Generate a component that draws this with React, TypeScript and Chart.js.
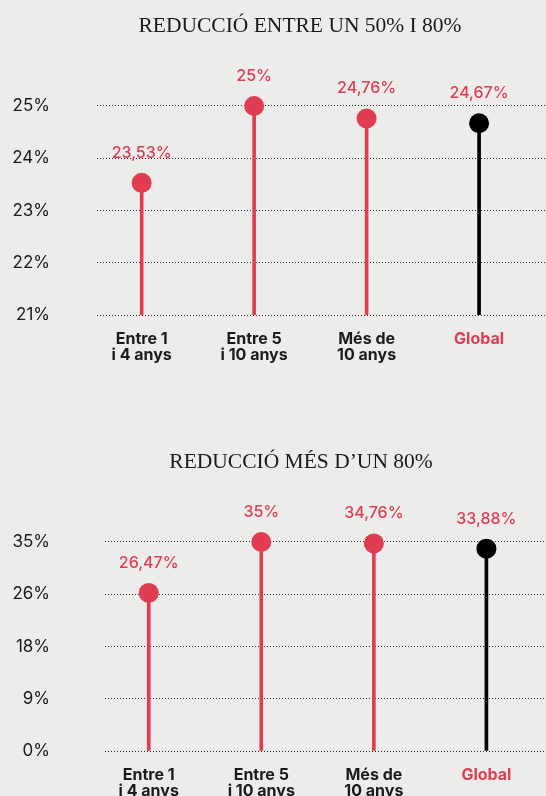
import React, { useEffect, useRef } from "react";
import { Chart, registerables } from "chart.js";

Chart.register(...registerables);

// ---- data ----
const categories: string[][] = [
  ["Entre 1", "i 4 anys"],
  ["Entre 5", "i 10 anys"],
  ["Més de", "10 anys"],
  ["Global"],
];
const title1 = "REDUCCIÓ ENTRE UN 50% I 80%";
const title2 = "REDUCCIÓ MÉS D\u2019UN 80%";
const values1 = [23.53, 25, 24.76, 24.67];
const values2 = [26.47, 35, 34.76, 33.88];
const yTicks1 = [21, 22, 23, 24, 25];
const yTickLabels1 = ["21%", "22%", "23%", "24%", "25%"];
const yTicks2 = [0, 8.75, 17.5, 26.25, 35];
const yTickLabels2 = ["0%", "9%", "18%", "26%", "35%"];

// ---- styles ----
const BG = "#ecedea";
const RED = "#e13d52";
const BLACK = "#000000";
const DARK = "#1b1b1b";
const markColors = [RED, RED, RED, BLACK];
const catLabelColors = [DARK, DARK, DARK, RED];

const fmt = (v: number) => String(v).replace(".", ",") + "%";

interface Props {
  top: number;
  width: number;
  title: string;
  values: number[];
  yTicks: number[];
  yTickLabels: string[];
  axisWidth: number;
  tickPad: number;
  xMin: number;
  xMax: number;
}

function LollipopChart(p: Props) {
  const ref = useRef<HTMLCanvasElement | null>(null);
  useEffect(() => {
    if (!ref.current) return;
    const yMin = p.yTicks[0];
    const yMax = p.yTicks[p.yTicks.length - 1];
    const labelPlugin = {
      id: "valueLabels",
      afterDatasetsDraw(chart: any) {
        const meta = chart.getDatasetMeta(1);
        const ctx = chart.ctx;
        ctx.save();
        ctx.font = "500 16px Inter";
        ctx.fillStyle = RED;
        ctx.textAlign = "center";
        ctx.textBaseline = "middle";
        meta.data.forEach((el: any, i: number) => {
          ctx.fillText(fmt(p.values[i]), el.x, el.y - 30);
        });
        ctx.restore();
      },
    };
    const chart = new Chart(ref.current, {
      type: "bar",
      data: {
        datasets: [
          {
            type: "bar",
            data: p.values.map((v, i) => ({ x: i, y: [yMin, v] })) as any,
            backgroundColor: markColors,
            borderWidth: 0,
            barThickness: 3,
            order: 2,
          } as any,
          {
            type: "scatter",
            data: p.values.map((v, i) => ({ x: i, y: v })),
            pointRadius: 10,
            pointHoverRadius: 10,
            pointBackgroundColor: markColors,
            pointBorderWidth: 0,
            borderWidth: 0,
            clip: false,
            order: 1,
          } as any,
        ],
      },
      options: {
        responsive: false,
        animation: false,
        events: [],
        layout: { padding: 0, autoPadding: false },
        plugins: {
          legend: { display: false },
          tooltip: { enabled: false },
          title: {
            display: true,
            text: p.title,
            color: "#1a1a1a",
            font: { family: "'Liberation Serif', serif", size: 21.5, weight: "normal" as any, lineHeight: 1.2 },
            padding: { top: 13.1, bottom: 67.1 },
          },
        },
        scales: {
          x: {
            type: "linear",
            offset: false,
            min: p.xMin,
            max: p.xMax,
            afterBuildTicks: (s: any) => {
              s.ticks = categories.map((_, i) => ({ value: i }));
            },
            afterFit: (s: any) => {
              s.height = 80;
            },
            grid: { display: false, drawTicks: false, offset: false },
            border: { display: false },
            ticks: {
              autoSkip: false,
              maxRotation: 0,
              padding: 16.5,
              callback: (_v: any, i: number) => categories[i],
              color: (c: any) => catLabelColors[c.index],
              font: { family: "Inter", size: 16, weight: "bold" as any, lineHeight: 0.97 },
            },
          },
          y: {
            type: "linear",
            min: yMin,
            max: yMax,
            afterBuildTicks: (s: any) => {
              s.ticks = p.yTicks.map((v) => ({ value: v }));
            },
            afterFit: (s: any) => {
              s.width = p.axisWidth;
            },
            grid: { color: "#2e2e2e", lineWidth: 1, drawTicks: false },
            border: { display: false, dash: [1, 2] },
            ticks: {
              padding: p.tickPad,
              callback: (_v: any, i: number) => p.yTickLabels[i],
              color: DARK,
              font: { family: "Inter", size: 17, weight: "normal" as any },
            },
          },
        },
      },
      plugins: [labelPlugin],
    } as any);
    return () => chart.destroy();
  }, []);
  return (
    <canvas
      ref={ref}
      width={p.width}
      height={395}
      style={{ position: "absolute", left: 0, top: p.top, width: p.width, height: 395 }}
    />
  );
}

export default function App() {
  useEffect(() => {
    document.body.style.background = BG;
  }, []);
  return (
    <div style={{ position: "absolute", left: 0, top: 0, width: 546, height: 831, background: BG, overflow: "hidden" }}>
      <LollipopChart
        top={0}
        width={600}
        title={title1}
        values={values1}
        yTicks={yTicks1}
        yTickLabels={yTickLabels1}
        axisWidth={97}
        tickPad={47}
        xMin={-0.397}
        xMax={4.075}
      />
      <LollipopChart
        top={436}
        width={602}
        title={title2}
        values={values2}
        yTicks={yTicks2}
        yTickLabels={yTickLabels2}
        axisWidth={104.5}
        tickPad={54.5}
        xMin={-0.393}
        xMax={4.027}
      />
    </div>
  );
}
